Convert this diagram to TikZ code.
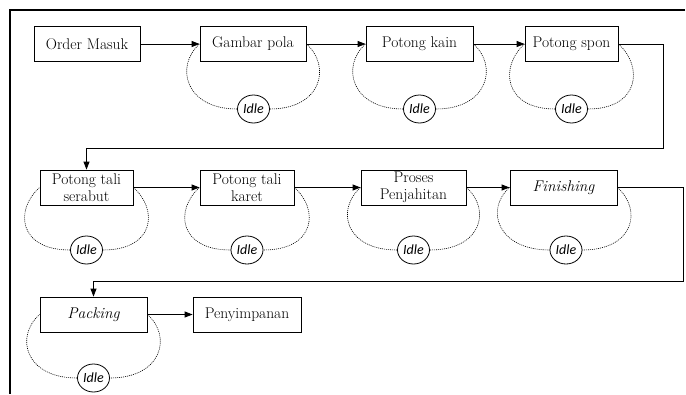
\documentclass[tikz,border=0pt]{standalone}
\usepackage{fontspec}
\newfontfamily\idlefont{Carlito}
\usetikzlibrary{arrows.meta,shapes.geometric}

\tikzset{
  proc/.style={draw=black, line width=0.8pt, fill=white, minimum height=35pt,
    inner sep=1pt, align=center, font=\rmfamily\fontsize{15.5}{16.5}\selectfont},
  idle/.style={draw=black, line width=0.8pt, ellipse, minimum width=32pt,
    minimum height=28pt, inner sep=0pt, font=\idlefont\itshape\fontsize{14}{15}\selectfont},
  flow/.style={-{Triangle[length=8pt,width=6pt]}, line width=0.8pt},
  wait/.style={line width=0.6pt, dash pattern=on 1pt off 1pt},
  frame/.style={line width=2pt}
}

\begin{document}
\begin{tikzpicture}[x=1pt, y=-1pt]
\useasboundingbox (0,0) rectangle (686,394);

% outer frame (top and left edges)
\draw[frame] (685,10) -- (10,10) -- (10,394);

% first row
\node[proc, minimum width=106pt] (om) at (87,44) {Order Masuk};
\node[proc, minimum width=106pt] (gp) at (253,44) {Gambar pola};
\node[proc, minimum width=107pt] (pk) at (419.5,44) {Potong kain};
\node[proc, minimum width=93pt]  (ps) at (571.5,44) {Potong spon};

% second row
\node[proc, minimum width=93pt]  (ts) at (86.5,187.5) {Potong tali\\serabut};
\node[proc, minimum width=94pt]  (tk) at (247,187.5) {Potong tali\\karet};
\node[proc, minimum width=105pt] (pp) at (413.5,187.5) {Proses\\Penjahitan};
\node[proc, minimum width=107pt] (fi) at (563.5,187.5) {\itshape Finishing};

% third row
\node[proc, minimum width=107pt] (pa) at (93.5,314.5) {\itshape Packing};
\node[proc, minimum width=108pt] (py) at (247,314.5) {Penyimpanan};

% idle states
\node[idle] (i1) at (253.5,109) {Idle};
\node[idle] (i2) at (419.5,109) {Idle};
\node[idle] (i3) at (571.5,109) {Idle};
\node[idle] (i4) at (86.5,250) {Idle};
\node[idle] (i5) at (247,250) {Idle};
\node[idle] (i6) at (413.5,250) {Idle};
\node[idle] (i7) at (566,250) {Idle};
\node[idle] (i8) at (93.5,378) {Idle};

% waiting loops
\foreach \b/\i in {gp/i1, pk/i2, ps/i3, ts/i4, tk/i5, pp/i6, fi/i7, pa/i8}{
  \draw[wait] (\b.east) .. controls +(25,22) and +(52,0) .. (\i.east);
  \draw[wait] (\i.west) .. controls +(-52,0) and +(-25,22) .. (\b.west);
}

% turning points of the row changes
\coordinate (t1) at (663,148);
\coordinate (t2) at (683,281);

% process flow
\draw[flow] (om.east) -- (gp.west);
\draw[flow] (gp.east) -- (pk.west);
\draw[flow] (pk.east) -- (ps.west);
\draw[flow] (ps.east) -| (t1) -| (ts.north);
\draw[flow] (ts.east) -- (tk.west);
\draw[flow] (tk.east) -- (pp.west);
\draw[flow] (pp.east) -- (fi.west);
\draw[flow] (fi.east) -| (t2) -| (pa.north);
\draw[flow] (pa.east) -- (py.west);
\end{tikzpicture}
\end{document}
